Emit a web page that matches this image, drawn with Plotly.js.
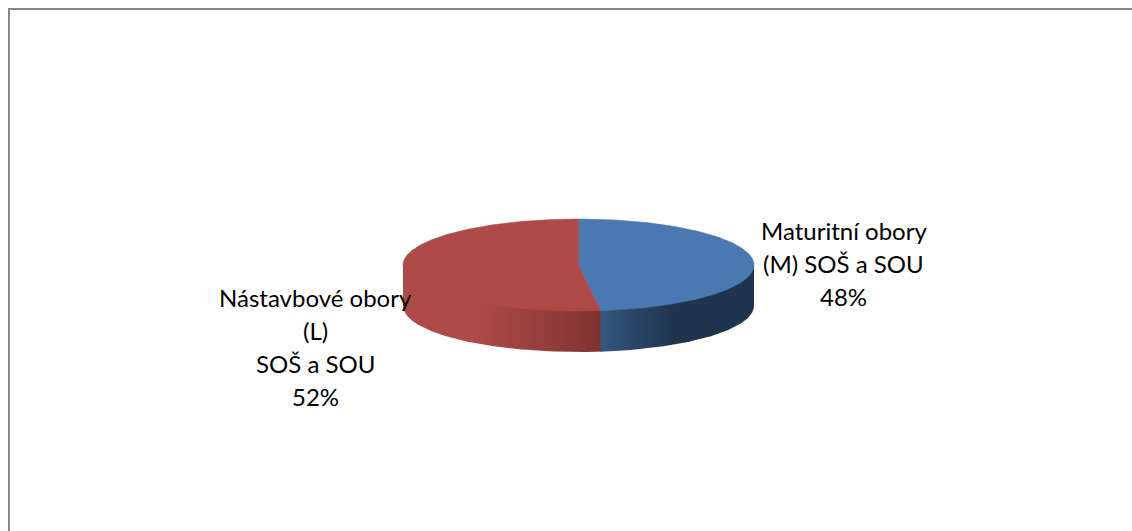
<!DOCTYPE html>
<html><head><meta charset="utf-8">
<script src="https://cdn.plot.ly/plotly-3.0.1.min.js"></script>
<style>html,body{margin:0;padding:0;background:#fff}#c{width:1132px;height:531px}</style>
</head><body><div id="c"></div>
<script>
const categories = ["Maturitní obory (M) SOŠ a SOU", "Nástavbové obory (L) SOŠ a SOU"];
const values = [48, 52];
const topColors = ["#4a78b0", "#ae4a47"];
const wallScales = [
  [[0, "#35567f"], [0.47, "#1f344f"], [1, "#1f344f"]],
  [[0, "#ae4a47"], [0.38, "#ae4a47"], [1, "#7e3331"]]
];
const labelLines = [
  ["Maturitní obory", "(M) SOŠ a SOU", "48%"],
  ["Nástavbové obory", "(L)", "SOŠ a SOU", "52%"]
];
const labelAnchors = [[843.5, 230], [315, 297]];

const W = 1132, H = 531, cx = 578.5, cy = 265, rx = 175.5, ry = 46, depth = 41, lineGap = 33;
const total = values.reduce((a, b) => a + b, 0);
const px = a => cx + rx * Math.sin(a), py = a => cy - ry * Math.cos(a);
function arc(a0, a1) {
  const n = Math.max(2, Math.ceil(Math.abs(a1 - a0) / 0.01)), out = [];
  for (let i = 0; i <= n; i++) out.push(a0 + (a1 - a0) * i / n);
  return out;
}
const traces = [];
let start = 0;
const spans = values.map(v => { const s = [start, start + v / total * 2 * Math.PI]; start = s[1]; return s; });

// Front walls, drawn red first so the blue wall's edge overlaps it; the upper edge is tucked under the top face.
[1, 0].forEach(i => {
  const s = spans[i];
  const a0 = Math.max(s[0], Math.PI / 2), a1 = Math.min(s[1], 3 * Math.PI / 2);
  const as = arc(i === 1 ? a0 - 0.01 : a0, a1);
  const rev = as.slice().reverse();
  const xs = as.map(px).concat(rev.map(px));
  const ys = as.map(a => py(a) - 4).concat(rev.map(a => py(a) + depth));
  xs.push(xs[0]); ys.push(ys[0]);
  traces.push({
    type: "scatter", mode: "lines", x: xs, y: ys, line: { width: 0, color: topColors[i] },
    fill: "toself", hoverinfo: "skip", showlegend: false,
    fillgradient: i === 0
      ? { type: "horizontal", colorscale: wallScales[0], start: px(s[1]), stop: px(Math.PI / 2) }
      : { type: "horizontal", colorscale: wallScales[1], start: px(3 * Math.PI / 2), stop: px(s[0]) }
  });
});
// Top faces
spans.forEach((s, i) => {
  const as = arc(s[0], s[1]);
  traces.push({
    type: "scatter", mode: "lines",
    x: [cx].concat(as.map(px), [cx]), y: [cy].concat(as.map(py), [cy]),
    line: { width: 0.6, color: topColors[i] }, fill: "toself", fillcolor: topColors[i],
    name: categories[i], text: categories[i] + ": " + values[i] + "%", hoverinfo: "text", showlegend: false
  });
});
const annotations = [];
labelLines.forEach((lines, i) => lines.forEach((t, k) => annotations.push({
  x: labelAnchors[i][0], y: labelAnchors[i][1] + k * lineGap, xref: "x", yref: "y",
  text: t, showarrow: false, xanchor: "center", yanchor: "middle",
  font: { family: "Lato, Carlito, sans-serif", size: 24, color: "#000" }
})));
Plotly.newPlot("c", traces, {
  width: W, height: H, margin: { l: 0, r: 0, t: 0, b: 0 },
  paper_bgcolor: "#fff", plot_bgcolor: "#fff",
  xaxis: { range: [0, W], visible: false, fixedrange: true },
  yaxis: { range: [H, 0], visible: false, fixedrange: true },
  annotations: annotations,
  shapes: [
    { type: "line", xref: "x", yref: "y", x0: 9, y0: 9, x1: W, y1: 9, line: { color: "#868686", width: 2 }, layer: "below" },
    { type: "line", xref: "x", yref: "y", x0: 9, y0: 8, x1: 9, y1: H, line: { color: "#868686", width: 2 }, layer: "below" }
  ]
}, { displayModeBar: false });
</script></body></html>
